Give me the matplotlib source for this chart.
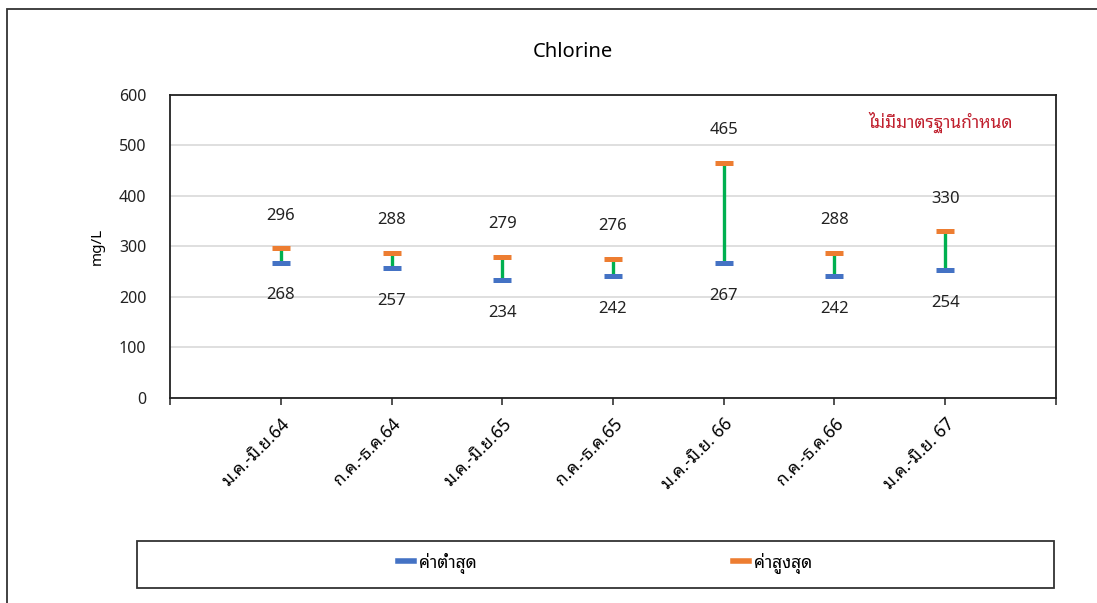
import matplotlib
matplotlib.use('Agg')
import matplotlib.pyplot as plt
from matplotlib.patches import Rectangle
from matplotlib.lines import Line2D

# dati
periodi = ["ม.ค.-มิ.ย.64", "ก.ค.-ธ.ค.64", "ม.ค.-มิ.ย.65", "ก.ค.-ธ.ค.65",
           "ม.ค.-มิ.ย. 66", "ก.ค.-ธ.ค.66", "ม.ค.-มิ.ย. 67"]
minimi = [268, 257, 234, 242, 267, 242, 254]
massimi = [296, 288, 279, 276, 465, 288, 330]

THAI = ['Noto Sans Thai Looped', 'DejaVu Sans']
BASE = ['Noto Sans', 'DejaVu Sans']
plt.rcParams['font.family'] = BASE

fig = plt.figure(figsize=(10.97, 6.03), dpi=100)
ax = fig.add_axes([0.155, 0.34, 0.8076, 0.5025])

x = list(range(1, len(periodi) + 1))

# linea verde tra min e max
ax.vlines(x, minimi, massimi, color='#00B050', lw=2.4, zorder=3)
ax.scatter(x, minimi, marker='_', s=180, lw=3.6, color='#4472C4', zorder=4)
ax.scatter(x, massimi, marker='_', s=180, lw=3.6, color='#ED7D31', zorder=4)

for xi, lo, hi in zip(x, minimi, massimi):
    ax.text(xi, hi + 65, str(hi), ha='center', va='center', fontsize=12, color='#222222')
    ax.text(xi, lo - 65, str(lo), ha='center', va='center', fontsize=12, color='#222222')

ax.set_xlim(0, 8)
ax.set_ylim(0, 600)
ax.set_yticks(range(0, 601, 100))
ax.set_xticks(range(0, 9))
ax.set_xticklabels([''] + periodi + [''], rotation=45, ha='right',
                   rotation_mode='anchor', family=THAI, fontsize=12.5)
ax.tick_params(axis='x', length=5, width=1.2, color='#333333', pad=7)
ax.tick_params(axis='y', length=0, pad=17, labelsize=11.5)
for lab in ax.get_yticklabels():
    lab.set_color('#222222')
ax.yaxis.grid(True, color='#D9D9D9', lw=1.2)
ax.set_axisbelow(True)
for s in ax.spines.values():
    s.set_color('#222222')
    s.set_linewidth(1.3)

ax.set_ylabel('mg/L', fontsize=11, labelpad=10)
fig.text(0.522, 0.913, 'Chlorine', ha='center', va='center', fontsize=14.5)
fig.text(941 / 1097, 1 - 122 / 603, 'ไม่มีมาตรฐานกำหนด', ha='center', va='center',
         color='#C0202E', fontsize=12.5, family=THAI)

# riquadro esterno della figura
fig.patches.append(Rectangle((7 / 1097, -0.05), 1.2, 1 - 9 / 603 + 0.05, transform=fig.transFigure,
                             fill=False, ec='#333333', lw=1.3))

# riquadro della legenda
fig.patches.append(Rectangle((137 / 1097, (603 - 588) / 603), (1054 - 137) / 1097, 47 / 603,
                             transform=fig.transFigure, fill=False, ec='#333333', lw=1.3))

# due voci di legenda, posizionate separatamente
voci = [('#4472C4', 'ค่าต่ำสุด', 391), ('#ED7D31', 'ค่าสูงสุด', 726)]
for colore, nome, px in voci:
    leg = fig.legend([Line2D([], [], color=colore, lw=4)], [nome], loc='center left',
                     bbox_to_anchor=(px / 1097, 1 - 563 / 603), frameon=False,
                     handlelength=0.9, handletextpad=0.3, prop={'family': THAI, 'size': 12.5},
                     borderaxespad=0)

fig.savefig('out.png')
